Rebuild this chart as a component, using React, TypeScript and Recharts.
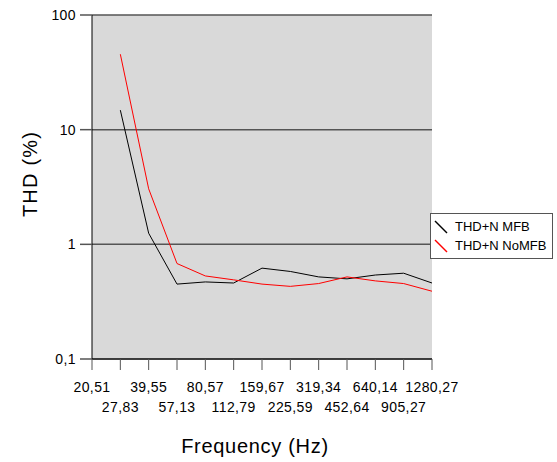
import React from 'react';
import {
  LineChart,
  Line,
  XAxis,
  YAxis,
  CartesianGrid,
  Legend,
  Label,
} from 'recharts';

const frequencies = [
  '20,51', '27,83', '39,55', '57,13', '80,57', '112,79', '159,67',
  '225,59', '319,34', '452,64', '640,14', '905,27', '1280,27',
];
const thdMfb = [null, 14.8, 1.25, 0.45, 0.47, 0.46, 0.62, 0.58, 0.52, 0.5, 0.54, 0.56, 0.46];
const thdNoMfb = [null, 45.5, 3.05, 0.68, 0.53, 0.49, 0.45, 0.43, 0.455, 0.52, 0.48, 0.455, 0.39];
const yTicks = [0.1, 1, 10, 100];

const data = frequencies.map((f, i) => ({
  f,
  mfb: thdMfb[i],
  nomfb: thdNoMfb[i],
}));

const FONT = '"Liberation Sans", Arial, sans-serif';

const AlternatingTick = ({ x, y, payload, index }: any) => (
  <text
    x={x}
    y={y + (index % 2 === 1 ? 30 : 10)}
    dy="0.71em"
    textAnchor="middle"
    fontSize={14}
    letterSpacing={0.4}
    fontFamily={FONT}
    fill="#000"
  >
    {payload.value}
  </text>
);

const LegendBox = () => {
  const items = [
    { name: 'THD+N MFB', color: '#000000' },
    { name: 'THD+N NoMFB', color: '#ff0000' },
  ];
  return (
    <div
      style={{
        border: '1px solid #555',
        background: '#fff',
        padding: '3px 6px 3px 3px',
        fontFamily: FONT,
        fontSize: 13,
        lineHeight: '19px',
      }}
    >
      {items.map((it) => (
        <div key={it.name} style={{ display: 'flex', alignItems: 'center', whiteSpace: 'nowrap' }}>
          <svg width={14} height={14} style={{ marginRight: 7 }}>
            <line x1={1} y1={1} x2={13} y2={13} stroke={it.color} strokeWidth={1.4} />
          </svg>
          <span>{it.name}</span>
        </div>
      ))}
    </div>
  );
};

export default function App() {
  return (
    <div style={{ position: 'absolute', left: 0, top: 0, background: '#fff' }}>
      <LineChart
        width={557}
        height={462}
        data={data}
        margin={{ top: 15, right: 125, left: 0, bottom: 40 }}
      >
        <CartesianGrid
          vertical={false}
          horizontal
          fill="#d9d9d9"
          stroke="#555"
          strokeWidth={1.5}
          horizontalValues={yTicks}
        />
        <XAxis
          dataKey="f"
          height={63}
          interval={0}
          tick={<AlternatingTick />}
          tickSize={11}
          axisLine={{ stroke: '#000', strokeWidth: 1 }}
          tickLine={{ stroke: '#555', strokeWidth: 1 }}
        >
          <Label
            content={() => (
              <text x={255} y={453} textAnchor="middle" fontSize={20} letterSpacing={0.7} fontFamily={FONT} fill="#000">
                Frequency (Hz)
              </text>
            )}
          />
        </XAxis>
        <YAxis
          scale="log"
          domain={[0.1, 100]}
          ticks={yTicks}
          allowDataOverflow
          width={92}
          tickSize={12}
          tickMargin={4}
          tickFormatter={(v: number) => String(v).replace('.', ',')}
          tick={{ fontSize: 14, fontFamily: FONT, fill: '#000', letterSpacing: 0.4 }}
          axisLine={{ stroke: '#000', strokeWidth: 1 }}
          tickLine={{ stroke: '#555', strokeWidth: 1.5 }}
        >
          <Label
            content={() => (
              <text
                x={37}
                y={174}
                transform="rotate(-90 37 174)"
                textAnchor="middle"
                fontSize={20}
                letterSpacing={1.2}
                fontFamily={FONT}
                fill="#000"
              >
                THD (%)
              </text>
            )}
          />
        </YAxis>
        <Legend
          layout="horizontal"
          verticalAlign="middle"
          align="center"
          content={<LegendBox />}
          wrapperStyle={{ left: 430, top: 213, width: 'auto', bottom: 'auto' }}
        />
        <Line
          type="linear"
          dataKey="mfb"
          name="THD+N MFB"
          stroke="#000000"
          strokeWidth={1}
          dot={false}
          isAnimationActive={false}
        />
        <Line
          type="linear"
          dataKey="nomfb"
          name="THD+N NoMFB"
          stroke="#ff0000"
          strokeWidth={1}
          dot={false}
          isAnimationActive={false}
        />
      </LineChart>
    </div>
  );
}
